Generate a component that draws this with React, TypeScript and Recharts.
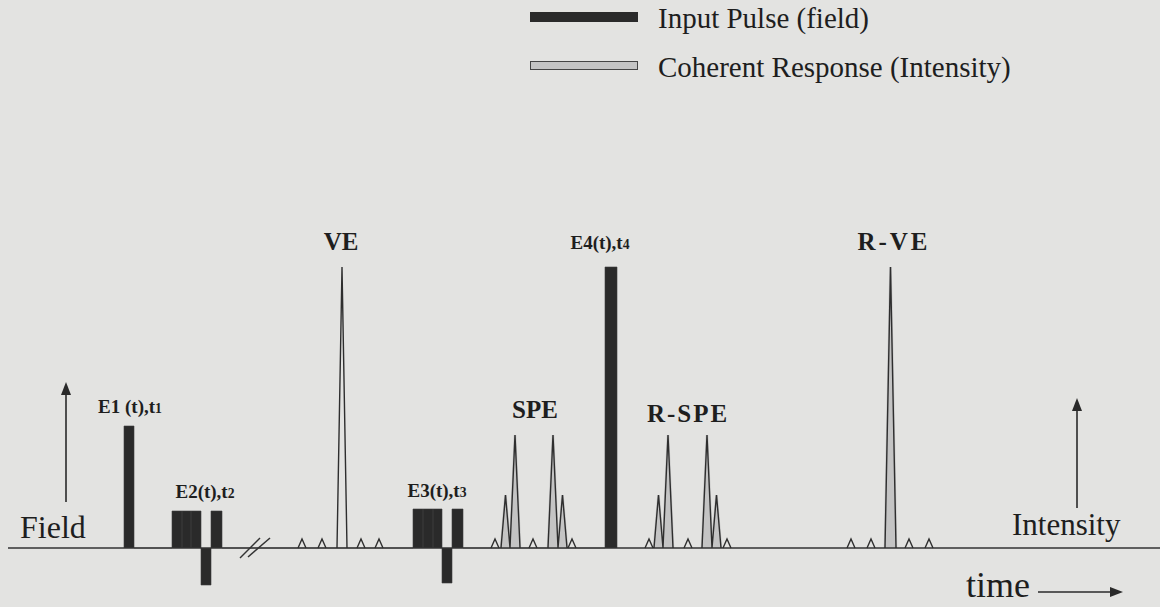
import React from 'react';
import {
  ComposedChart,
  Area,
  Line,
  XAxis,
  YAxis,
  ReferenceLine,
  ReferenceDot,
  Legend,
} from 'recharts';

const CHART_W = 1160;
const CHART_H = 607;
const SERIF = '"Liberation Serif", "Times New Roman", serif';
const PULSE_COLOR = '#2a2a2a';
const FILL_COLOR = '#c4c4c4';
const LINE_COLOR = '#2e2e2e';
const BG = '#e3e3e1';

// schematic time axis and amplitude axis
const TIME_DOMAIN: [number, number] = [0, 1160];
const AMP_DOMAIN: [number, number] = [-59, 548];

// Input pulses (field): start, end, amplitude
const pulseStart = [124, 172, 182, 191, 201, 211, 413, 423, 433, 442, 452, 605];
const pulseEnd = [134, 182, 191, 201, 211, 222, 423, 433, 442, 452, 463, 617];
const pulseAmp = [122, 37, 37, 37, -37, 37, 39, 39, 39, -35, 39, 281];

// Coherent responses (intensity): centre, height, half width, shaded
const respCenter = [302, 322, 342, 361, 379, 495, 505.5, 515, 533, 553, 562.5, 572, 649, 658.5, 668, 688, 707, 716.5, 727, 851, 871, 890.5, 909, 929];
const respHeight = [9, 9, 281, 9, 9, 9, 53, 113, 9, 113, 53, 9, 9, 53, 113, 9, 113, 53, 9, 9, 9, 281, 9, 9];
const respHalfWidth = [4, 4, 5, 4, 4, 4, 4.5, 5, 4, 5, 4.5, 4, 4, 4.5, 5, 4, 5, 4.5, 4, 4, 4, 5.5, 4, 4];
const respShaded = [0, 0, 0, 0, 0, 0, 1, 1, 0, 1, 1, 0, 0, 1, 1, 0, 1, 1, 0, 0, 0, 1, 0, 0];

// Labels
const pulseLabels = ['E1 (t),t', 'E2(t),t', 'E3(t),t', 'E4(t),t'];
const pulseLabelSub = ['1', '2', '3', '4'];
const pulseLabelTime = [130, 205, 437, 600];
const pulseLabelLevel = [135, 50, 51, 299];

const echoLabels = ['VE', 'SPE', 'R-SPE', 'R-VE'];
const echoLabelTime = [341, 535, 688, 894];
const echoLabelLevel = [298, 130, 126, 298];
const echoLabelSpacing = [0, 0, 2, 3];

const legendNames = ['Input Pulse (field)', 'Coherent Response (Intensity)'];

// build series tables from the arrays
const pulseData: { t: number; v: number }[] = [];
pulseStart.forEach((s, i) => {
  pulseData.push({ t: s, v: 0 }, { t: s, v: pulseAmp[i] }, { t: pulseEnd[i], v: pulseAmp[i] }, { t: pulseEnd[i], v: 0 });
});

const outlineData: { t: number; v: number | null }[] = [];
const shadeData: { t: number; v: number | null }[] = [];
respCenter.forEach((c, i) => {
  const w = respHalfWidth[i];
  const pts = [
    { t: c - w, v: 0 },
    { t: c, v: respHeight[i] },
    { t: c + w, v: 0 },
    { t: c + w, v: null },
  ];
  outlineData.push(...pts);
  if (respShaded[i]) shadeData.push(...pts);
});

const arrowShape = (p: any) => {
  const { x1, y1, x2, y2 } = p;
  const ang = Math.atan2(y2 - y1, x2 - x1);
  const L = 13;
  const Wd = 5;
  const bx = x2 - L * Math.cos(ang);
  const by = y2 - L * Math.sin(ang);
  const px = -Math.sin(ang) * Wd;
  const py = Math.cos(ang) * Wd;
  return (
    <g>
      <line x1={x1} y1={y1} x2={bx} y2={by} stroke="#2a2a2a" strokeWidth={1.6} />
      <polygon points={`${x2},${y2} ${bx + px},${by + py} ${bx - px},${by - py}`} fill="#2a2a2a" />
    </g>
  );
};

const textShape = (text: string, size: number, anchor: 'start' | 'middle', bold = false, sub?: string, spacing = 0) =>
  (p: any) => (
    <text
      x={p.cx}
      y={p.cy}
      textAnchor={anchor}
      fontFamily={SERIF}
      fontSize={size}
      fontWeight={bold ? 700 : 400}
      letterSpacing={spacing}
      fill="#1e1e1e"
    >
      {text}
      {sub ? <tspan fontSize={size * 0.72}>{sub}</tspan> : null}
    </text>
  );

const renderLegend = () => (
  <div style={{ position: 'relative', width: 520, height: 90, fontFamily: SERIF, fontSize: 29, color: '#1e1e1e' }}>
    {legendNames.map((n, i) => (
      <React.Fragment key={n}>
        <div
          style={{
            position: 'absolute',
            left: 0,
            top: i === 0 ? 12 : 61,
            width: 108,
            height: i === 0 ? 10 : 9,
            background: i === 0 ? PULSE_COLOR : FILL_COLOR,
            border: i === 0 ? 'none' : '1px solid #444',
            boxSizing: 'border-box',
          }}
        />
        <div style={{ position: 'absolute', left: 128, top: i === 0 ? 3 : 52, lineHeight: '30px', whiteSpace: 'nowrap' }}>
          {n}
        </div>
      </React.Fragment>
    ))}
  </div>
);

export default function App() {
  return (
    <div style={{ position: 'absolute', left: 0, top: 0, width: CHART_W, height: CHART_H, background: BG }}>
      <ComposedChart width={CHART_W} height={CHART_H} margin={{ top: 0, right: 0, bottom: 0, left: 0 }}>
        <XAxis type="number" dataKey="t" domain={TIME_DOMAIN} hide allowDataOverflow />
        <YAxis type="number" dataKey="v" domain={AMP_DOMAIN} hide allowDataOverflow />

        <ReferenceLine
          segment={[{ x: 8, y: 0 }, { x: 1160, y: 0 }]}
          stroke="#333"
          strokeWidth={1.6}
          ifOverflow="visible"
        />
        <ReferenceLine segment={[{ x: 240, y: -10 }, { x: 260, y: 10 }]} stroke="#333" strokeWidth={1.5} ifOverflow="visible" />
        <ReferenceLine segment={[{ x: 248, y: -9 }, { x: 270, y: 10 }]} stroke="#333" strokeWidth={1.5} ifOverflow="visible" />

        <Area
          data={pulseData}
          dataKey="v"
          name={legendNames[0]}
          type="linear"
          baseValue={0}
          fill={PULSE_COLOR}
          fillOpacity={1}
          stroke="#3c3c3c"
          strokeWidth={0.6}
          isAnimationActive={false}
          dot={false}
          activeDot={false}
        />
        <Area
          data={shadeData}
          dataKey="v"
          name={legendNames[1]}
          type="linear"
          baseValue={0}
          fill={FILL_COLOR}
          fillOpacity={1}
          stroke={FILL_COLOR}
          strokeWidth={2.5}
          isAnimationActive={false}
          dot={false}
          activeDot={false}
        />
        <Line
          data={outlineData}
          dataKey="v"
          type="linear"
          stroke={LINE_COLOR}
          strokeWidth={1.4}
          legendType="none"
          isAnimationActive={false}
          dot={false}
          activeDot={false}
        />

        {/* axis arrows */}
        <ReferenceLine segment={[{ x: 66, y: 46 }, { x: 66, y: 166 }]} shape={arrowShape} ifOverflow="visible" />
        <ReferenceLine segment={[{ x: 1077, y: 40 }, { x: 1077, y: 150 }]} shape={arrowShape} ifOverflow="visible" />
        <ReferenceLine segment={[{ x: 1038, y: -44 }, { x: 1123, y: -44 }]} shape={arrowShape} ifOverflow="visible" />

        <ReferenceDot x={20} y={10} r={0} ifOverflow="visible" shape={textShape('Field', 32, 'start')} />
        <ReferenceDot x={1012} y={13} r={0} ifOverflow="visible" shape={textShape('Intensity', 31, 'start')} />
        <ReferenceDot x={966} y={-49} r={0} ifOverflow="visible" shape={textShape('time', 36, 'start')} />

        {pulseLabels.map((lab, i) => (
          <ReferenceDot
            key={lab}
            x={pulseLabelTime[i]}
            y={pulseLabelLevel[i]}
            r={0}
            ifOverflow="visible"
            shape={textShape(lab, 19, 'middle', true, pulseLabelSub[i])}
          />
        ))}
        {echoLabels.map((lab, i) => (
          <ReferenceDot
            key={lab}
            x={echoLabelTime[i]}
            y={echoLabelLevel[i]}
            r={0}
            ifOverflow="visible"
            shape={textShape(lab, 25, 'middle', true, undefined, echoLabelSpacing[i])}
          />
        ))}

        <Legend
          layout="horizontal"
          verticalAlign="middle"
          align="center"
          content={renderLegend}
          wrapperStyle={{ left: 530, top: 0, width: 520, height: 90 }}
        />
      </ComposedChart>
    </div>
  );
}
